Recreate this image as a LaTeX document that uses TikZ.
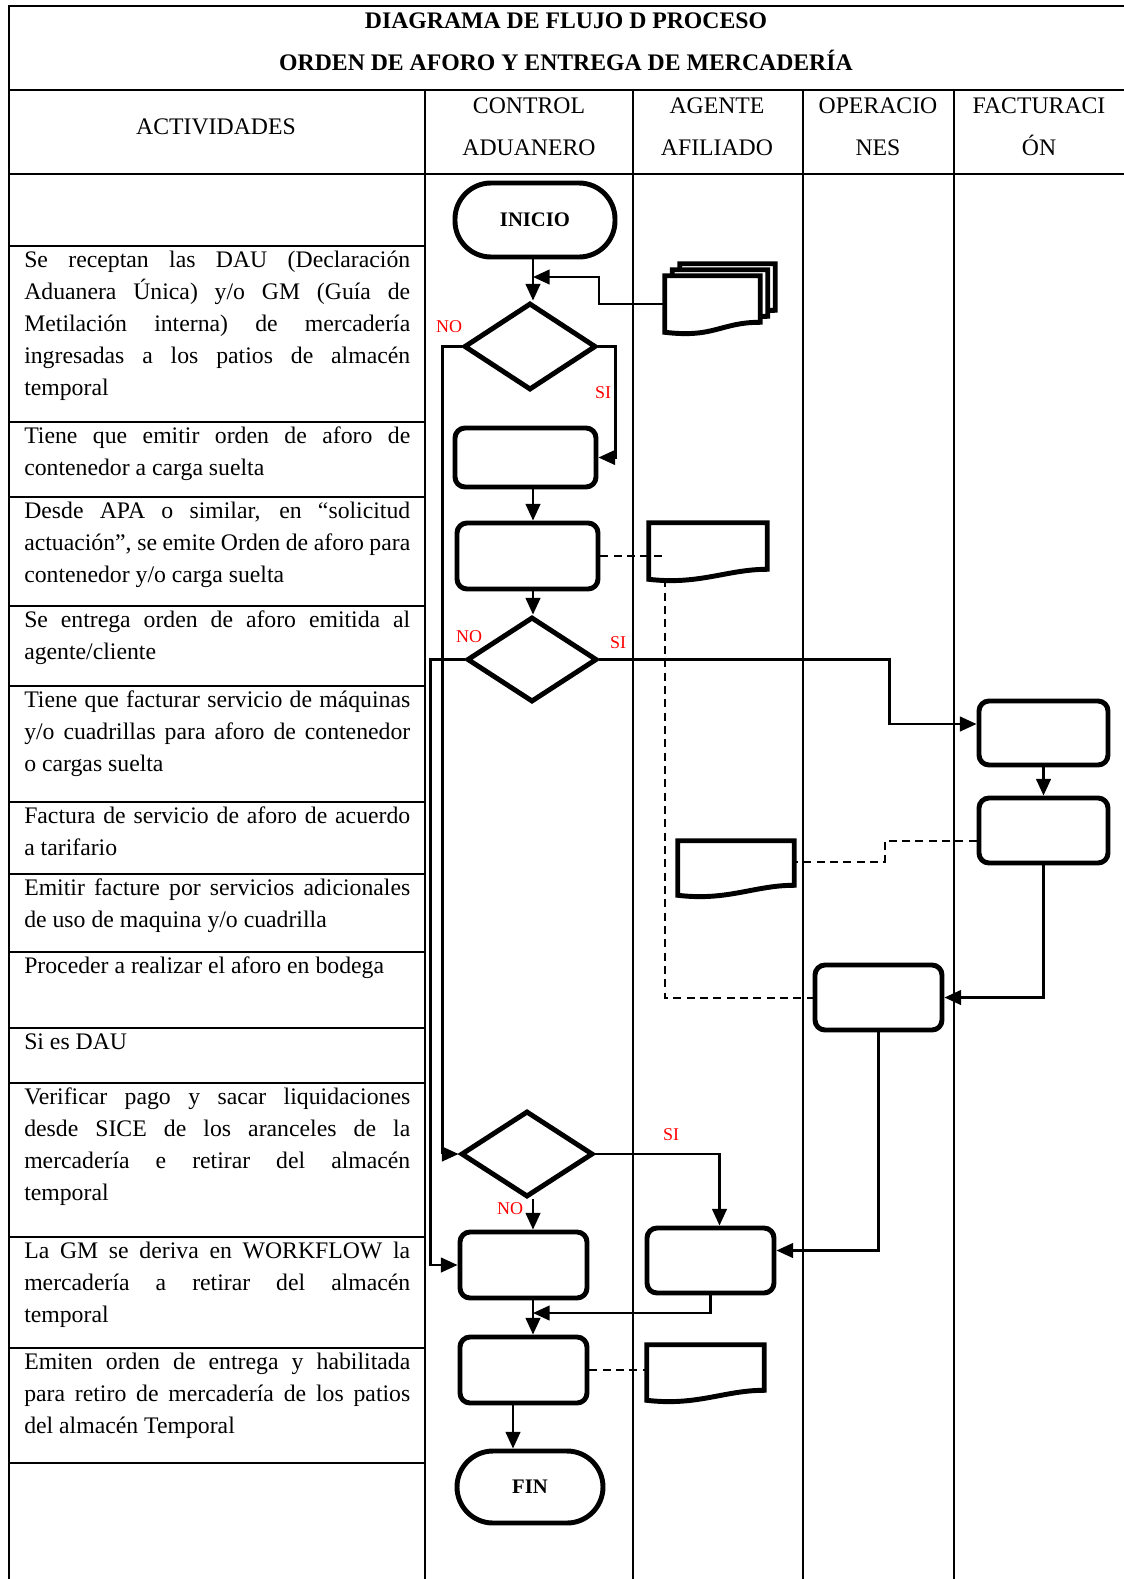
\documentclass[tikz,border=0pt]{standalone}
\usepackage{fontspec}
\setmainfont{Liberation Serif}
\usetikzlibrary{arrows.meta,shapes.geometric,calc}
\hyphenpenalty=10000
\exhyphenpenalty=10000

% document sheet with wavy lower edge, drawn round a named node
\newcommand{\docoutline}[2][]{%
  \draw[shapeline,#1] (#2.north west) -- (#2.north east) -- ($(#2.south east)+(0,-10)$)
    .. controls ($(#2.south east)+(-40,-10)$) and ($(#2.south west)+(50,6)$) .. (#2.south west) -- cycle;}

\begin{document}
\begin{tikzpicture}[x=0.75pt,y=0.75pt,yscale=-1,xscale=1,
  shapeline/.style={line width=3.7pt},
  procbox/.style 2 args={draw,shapeline,rounded corners=7.5pt,minimum width=#1*0.75pt,minimum height=#2*0.75pt,inner sep=0pt},
  termbox/.style 2 args={draw,shapeline,rounded corners=27pt,minimum width=#1*0.75pt,minimum height=#2*0.75pt,inner sep=0pt,font=\fontsize{15.5}{18}\selectfont\bfseries},
  decbox/.style 2 args={draw,shapeline,diamond,minimum width=#1*0.75pt,minimum height=#2*0.75pt,inner sep=0pt},
  docbox/.style 2 args={minimum width=#1*0.75pt,minimum height=#2*0.75pt,inner sep=0pt},
  flow/.style={line width=1.7pt,-{Triangle[length=12.5pt,width=11pt]}},
  link/.style={line width=1.5pt,dash pattern=on 6pt off 4pt},
  tline/.style={line width=1.5pt},
  lbl/.style={text=red,font=\fontsize{13.5}{16}\selectfont,inner sep=0pt},
  actv/.style={anchor=base west,inner sep=0pt,text width=289.5pt,align=justify,font=\fontsize{17.8}{24}\selectfont},
  hdr/.style={anchor=base,inner sep=0pt,font=\fontsize{17.8}{24}\selectfont},
  ttl/.style={anchor=base,inner sep=0pt,font=\fontsize{17.8}{24}\selectfont\bfseries}]
%set diagram left start at 0, and has height of 1579
\useasboundingbox (0,0) rectangle (1124,1579);

%Table: frame and header lines
\draw [tline] (8.5,1579) -- (8.5,6) -- (1124,6) ;
\draw [tline] (8.5,90) -- (1124,90) ;
\draw [tline] (8.5,173.5) -- (1124,173.5) ;
%Table: lane lines
\draw [tline] (425,90) -- (425,1579) ;
\draw [tline] (633,90) -- (633,1579) ;
\draw [tline] (802.5,90) -- (802.5,1579) ;
\draw [tline] (953.5,90) -- (953.5,1579) ;
%Table: activity rows
\draw [tline] (8.5,246) -- (425,246) ;
\draw [tline] (8.5,421.5) -- (425,421.5) ;
\draw [tline] (8.5,496.5) -- (425,496.5) ;
\draw [tline] (8.5,605.5) -- (425,605.5) ;
\draw [tline] (8.5,685.5) -- (425,685.5) ;
\draw [tline] (8.5,801.5) -- (425,801.5) ;
\draw [tline] (8.5,874) -- (425,874) ;
\draw [tline] (8.5,951.5) -- (425,951.5) ;
\draw [tline] (8.5,1028) -- (425,1028) ;
\draw [tline] (8.5,1083) -- (425,1083) ;
\draw [tline] (8.5,1236.5) -- (425,1236.5) ;
\draw [tline] (8.5,1348) -- (425,1348) ;
\draw [tline] (8.5,1462.5) -- (425,1462.5) ;

% Text Node
\draw (566,28) node (ttl1) [ttl] {DIAGRAMA DE FLUJO D PROCESO};
% Text Node
\draw (566,70) node (ttl2) [ttl] {ORDEN DE AFORO Y ENTREGA DE MERCADERÍA};
% Text Node
\draw (216,134) node (hact) [hdr] {ACTIVIDADES};
% Text Node
\draw (529,113) node (hctl1) [hdr] {CONTROL};
\draw (529,155) node (hctl2) [hdr] {ADUANERO};
% Text Node
\draw (717,113) node (hag1) [hdr] {AGENTE};
\draw (717,155) node (hag2) [hdr] {AFILIADO};
% Text Node
\draw (878,113) node (hop1) [hdr] {OPERACIO};
\draw (878,155) node (hop2) [hdr] {NES};
% Text Node
\draw (1039,113) node (hfac1) [hdr] {FACTURACI};
\draw (1039,155) node (hfac2) [hdr] {ÓN};

% Text Node
\draw (24,267.5) node (act1) [actv] {Se receptan las DAU (Declaración\linebreak Aduanera Única) y/o GM (Guía de\linebreak Metilación interna) de mercadería\linebreak ingresadas a los patios de almacén\linebreak temporal};
% Text Node
\draw (24,443) node (act2) [actv] {Tiene que emitir orden de aforo de\linebreak contenedor a carga suelta};
% Text Node
\draw (24,518) node (act3) [actv] {Desde APA o similar, en “solicitud\linebreak actuación”, se emite Orden de aforo para\linebreak contenedor y/o carga suelta};
% Text Node
\draw (24,627) node (act4) [actv] {Se entrega orden de aforo emitida al\linebreak agente/cliente};
% Text Node
\draw (24,707) node (act5) [actv] {Tiene que facturar servicio de máquinas\linebreak y/o cuadrillas para aforo de contenedor\linebreak o cargas suelta};
% Text Node
\draw (24,823) node (act6) [actv] {Factura de servicio de aforo de acuerdo\linebreak a tarifario};
% Text Node
\draw (24,895.5) node (act7) [actv] {Emitir facture por servicios adicionales\linebreak de uso de maquina y/o cuadrilla};
% Text Node
\draw (24,973) node (act8) [actv] {Proceder a realizar el aforo en bodega};
% Text Node
\draw (24,1049.5) node (act9) [actv] {Si es DAU};
% Text Node
\draw (24,1104.5) node (act10) [actv] {Verificar pago y sacar liquidaciones\linebreak desde SICE de los aranceles de la\linebreak mercadería e retirar del almacén\linebreak temporal};
% Text Node
\draw (24,1258) node (act11) [actv] {La GM se deriva en WORKFLOW la\linebreak mercadería a retirar del almacén\linebreak temporal};
% Text Node
\draw (24,1369.5) node (act12) [actv] {Emiten orden de entrega y habilitada\linebreak para retiro de mercadería de los patios\linebreak del almacén Temporal};

%Flowchart: Terminator
\draw (535,220) node (inicio) [termbox={160}{74}] {INICIO};
%Flowchart: Decision
\draw (530,346.5) node (dec1) [decbox={132}{87}] {};
%Flowchart: Process
\draw (525.5,457.5) node (box1) [procbox={141}{59}] {};
\draw (527.5,556) node (box2) [procbox={141}{66}] {};
%Flowchart: Decision
\draw (532,659.5) node (dec2) [decbox={130}{85}] {};
%Flowchart: Process
\draw (1043.5,733) node (fbox1) [procbox={129}{64}] {};
\draw (1043.5,830.5) node (fbox2) [procbox={129}{65}] {};
\draw (878.5,997.5) node (opbox) [procbox={127}{65}] {};
%Flowchart: Decision
\draw (527,1154) node (dec3) [decbox={132}{86}] {};
%Flowchart: Process
\draw (523.5,1265) node (box4) [procbox={127}{66}] {};
\draw (710.5,1260.5) node (agbox) [procbox={127}{65}] {};
\draw (523.5,1370) node (box5) [procbox={127}{66}] {};
%Flowchart: Terminator
\draw (530,1487) node (fin) [termbox={146}{72}] {FIN};

%Flowchart: Multidocument
\draw (727.5,292) node (stk3) [docbox={95}{56}] {};
\draw (720,298) node (stk2) [docbox={95}{56}] {};
\draw (712.5,304) node (stk) [docbox={95}{56}] {};
\docoutline[fill=white]{stk3}
\docoutline[fill=white]{stk2}
\docoutline[fill=white]{stk}
%Flowchart: Document
\draw (708,551) node (doc2) [docbox={118}{56}] {};
\docoutline{doc2}
\draw (736,868) node (doc3) [docbox={116}{54}] {};
\docoutline{doc3}
\draw (705.5,1372.5) node (doc4) [docbox={117}{55}] {};
\docoutline{doc4}

%Connector points
\coordinate (axis) at (533,0);
\coordinate (axisb) at (513,0);
\coordinate (m1) at (533,277);
\coordinate (m2) at (533,1313);
\coordinate (dline) at (665,0);

%Straight Lines
\draw [flow] (inicio.south -| axis) -- (dec1.north -| axis) ;
\draw [flow] (stk.west) -- ++(-66,0) |- (m1) ;
\draw [flow] (dec1.east) -- ++(17,0) |- (box1.east) ;
\draw [flow] (dec1.west) -- ++(-19,0) |- (dec3.west) ;
\draw [flow] (box1.south -| axis) -- (box2.north -| axis) ;
\draw [flow] (box2.south -| axis) -- (dec2.north -| axis) ;
\draw [flow] (dec2.west) -- ++(-34,0) |- (box4.west) ;
\draw [flow] (dec2.east) -- ++(290,0) |- ($(fbox1.west)+(0,-9)$) ;
\draw [flow] (fbox1.south) -- (fbox2.north) ;
\draw [flow] (fbox2.south) |- (opbox.east) ;
\draw [flow] (opbox.south) |- ($(agbox.east)+(0,-10)$) ;
\draw [flow] (dec3.east) -| ($(agbox.north)+(9,0)$) ;
\draw [flow] (dec3.south -| axis) -- (box4.north -| axis) ;
\draw [flow] (agbox.south) |- (m2) ;
\draw [flow] (box4.south -| axis) -- (box5.north -| axis) ;
\draw [flow] (box5.south -| axisb) -- (fin.north -| axisb) ;
%Dashed Lines
\draw [link] (box2.east) -- (box2.east -| dline) ;
\draw [link] (doc2.south -| dline) |- (opbox.west) ;
\draw [link] ($(fbox2.west)+(0,10)$) -- ++(-92,0) |- ($(doc3.east)+(0,-6)$) ;
\draw [link] (box5.east) -- (box5.east -| doc4.west) ;

% Text Node
\draw (449,327) node (no1) [lbl] {NO};
\draw (603,393) node (si1) [lbl] {SI};
\draw (469,637) node (no2) [lbl] {NO};
\draw (618,643) node (si2) [lbl] {SI};
\draw (671,1135) node (si3) [lbl] {SI};
\draw (510,1209) node (no3) [lbl] {NO};

\end{tikzpicture}
\end{document}
